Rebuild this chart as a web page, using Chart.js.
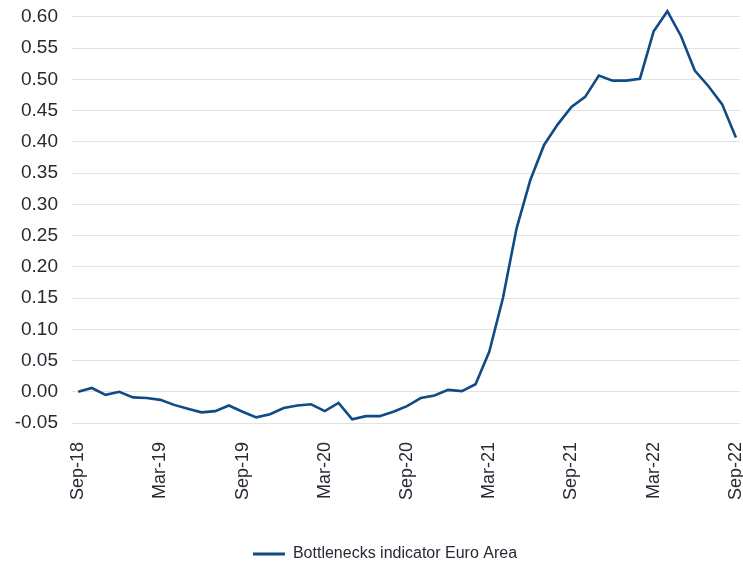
<!DOCTYPE html>
<html>
<head>
<meta charset="utf-8">
<script src="https://cdn.jsdelivr.net/npm/chart.js@4"></script>
<style>
  html, body { margin:0; padding:0; background:#fff; }
  #wrap { width:743px; height:563px; }
</style>
</head>
<body>
<div id="wrap"><canvas id="chart" width="743" height="563"></canvas></div>
<script>
// Bottlenecks indicator, Euro Area — monthly, Sep-18 .. Sep-22

const months = [
  'Sep-18','Oct-18','Nov-18','Dec-18','Jan-19','Feb-19','Mar-19','Apr-19','May-19','Jun-19','Jul-19','Aug-19',
  'Sep-19','Oct-19','Nov-19','Dec-19','Jan-20','Feb-20','Mar-20','Apr-20','May-20','Jun-20','Jul-20','Aug-20',
  'Sep-20','Oct-20','Nov-20','Dec-20','Jan-21','Feb-21','Mar-21','Apr-21','May-21','Jun-21','Jul-21','Aug-21',
  'Sep-21','Oct-21','Nov-21','Dec-21','Jan-22','Feb-22','Mar-22','Apr-22','May-22','Jun-22','Jul-22','Aug-22',
  'Sep-22'
];

const bottlenecks = [
   0.000,  0.006, -0.005,  0.000, -0.009, -0.010, -0.013, -0.021, -0.027, -0.033, -0.031, -0.022,
  -0.032, -0.041, -0.036, -0.026, -0.022, -0.020, -0.031, -0.018, -0.044, -0.039, -0.039, -0.032,
  -0.023, -0.010, -0.006,  0.003,  0.001,  0.012,  0.064,  0.150,  0.262,  0.339,  0.395,  0.428,
   0.456,  0.472,  0.506,  0.498,  0.498,  0.501,  0.577,  0.609,  0.569,  0.514,  0.489,  0.460,
   0.407
];

const yTicks = [-0.05, 0.00, 0.05, 0.10, 0.15, 0.20, 0.25, 0.30, 0.35, 0.40, 0.45, 0.50, 0.55, 0.60];
const xTickEvery = 6;

const LINE = '#0f4b84';
const TEXT = '#262a33';
const GRID = '#e3e3e3';

// nudge the legend a little right and down, like the original layout
const legendNudge = {
  id: 'legendNudge',
  afterLayout(chart) {
    const lg = chart.legend;
    if (!lg) return;
    lg.left += 15; lg.right += 15;
    lg.top += 9;   lg.bottom += 9;
  }
};

new Chart(document.getElementById('chart'), {
  type: 'line',
  data: {
    datasets: [{
      label: 'Bottlenecks indicator Euro Area',
      data: bottlenecks.map((v, i) => ({ x: i, y: v })),
      borderColor: LINE,
      backgroundColor: LINE,
      borderWidth: 2.6,
      pointRadius: 0,
      tension: 0
    }]
  },
  plugins: [legendNudge],
  options: {
    responsive: false,
    animation: false,
    layout: { padding: { top: 0, right: 3, left: 0, bottom: 0 } },
    plugins: {
      tooltip: { enabled: false },
      legend: {
        position: 'bottom',
        labels: {
          color: TEXT,
          font: { family: 'Liberation Sans, Arial', size: 16 },
          boxWidth: 32,
          boxHeight: 3,
          padding: 0,
          generateLabels(chart) {
            // thin flat line swatch, no stroke around it
            return Chart.defaults.plugins.legend.labels.generateLabels(chart)
              .map(l => Object.assign(l, { lineWidth: 0 }));
          }
        }
      }
    },
    scales: {
      x: {
        type: 'linear',
        min: -0.45,
        max: 48.3,
        afterBuildTicks(scale) {
          scale.ticks = months.map((m, i) => ({ value: i })).filter(t => t.value % xTickEvery === 0);
        },
        afterFit(scale) {
          scale.height = 114;
          scale.paddingLeft = 0;
          scale.paddingRight = 0;
        },
        grid: { display: false, drawTicks: false },
        border: { display: false },
        ticks: {
          autoSkip: false,
          minRotation: 90,
          maxRotation: 90,
          padding: 19,
          color: TEXT,
          font: { family: 'Liberation Sans, Arial', size: 18 },
          callback: v => months[v]
        }
      },
      y: {
        min: -0.05,
        max: 0.627,
        afterBuildTicks(scale) { scale.ticks = yTicks.map(v => ({ value: v })); },
        afterFit(scale) {
          scale.width = 72;
          scale.paddingTop = 0;
          scale.paddingBottom = 0;
        },
        grid: { color: GRID, lineWidth: 1, drawTicks: false },
        border: { display: false },
        ticks: {
          padding: 14,
          color: TEXT,
          font: { family: 'Liberation Sans, Arial', size: 19 },
          callback: v => v.toFixed(2)
        }
      }
    }
  }
});
</script>
</body>
</html>
